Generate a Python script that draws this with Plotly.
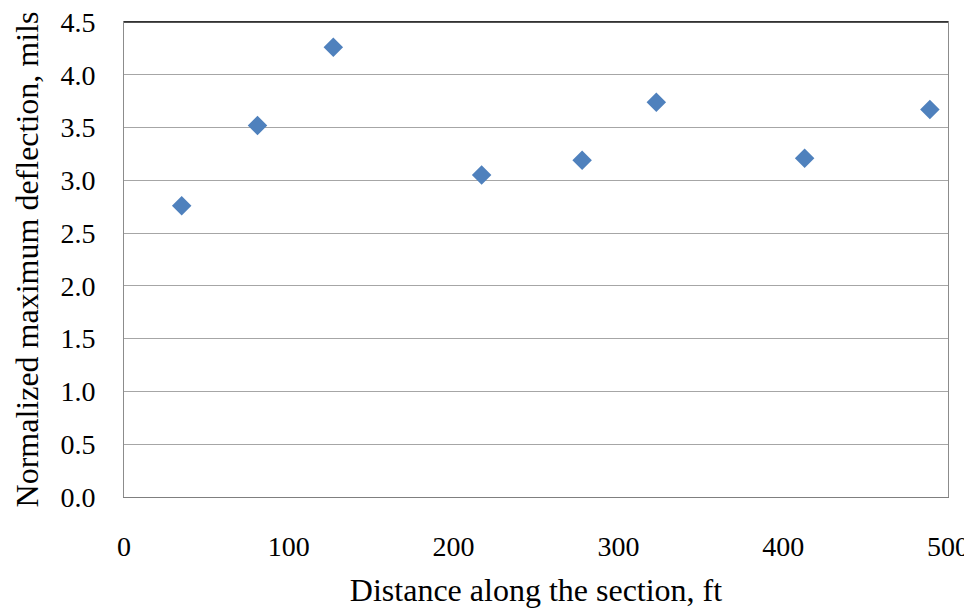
import plotly.graph_objects as go

distance_ft = [35, 81, 127, 217, 278, 323, 413, 489]
deflection_mils = [2.76, 3.52, 4.26, 3.05, 3.19, 3.74, 3.21, 3.67]

x_ticks = [0, 100, 200, 300, 400, 500]
y_ticks = [0.0, 0.5, 1.0, 1.5, 2.0, 2.5, 3.0, 3.5, 4.0, 4.5]

font_family = "Liberation Serif, Times New Roman, serif"

fig = go.Figure()
fig.add_trace(go.Scatter(
    x=distance_ft, y=deflection_mils, mode="markers",
    marker=dict(symbol="diamond", size=15, color="#4F81BD",
                line=dict(width=0)),
    showlegend=False, cliponaxis=False,
))

fig.add_shape(type="line", xref="paper", yref="paper", x0=0, x1=1, y0=1, y1=1,
              line=dict(color="#1A1A1A", width=1.5), layer="above")

fig.update_layout(
    width=972, height=609,
    margin=dict(l=116, r=32, t=14, b=120),
    paper_bgcolor="white", plot_bgcolor="white",
    font=dict(family=font_family, size=28, color="black"),
    xaxis=dict(
        range=[0, 500], tickvals=x_ticks, ticktext=[str(v) for v in x_ticks],
        showgrid=False, showline=True, linecolor="#7F7F7F", linewidth=1,
        mirror=True, ticks="", zeroline=False, ticklabelstandoff=24,
        ticklabeloverflow="allow", automargin=False,
        title=dict(text="Distance along the section, ft", standoff=18,
                   font=dict(size=32)),
        tickfont=dict(size=28),
    ),
    yaxis=dict(
        range=[0, 4.5], tickvals=y_ticks, ticktext=[f"{v:.1f}" for v in y_ticks],
        showgrid=True, gridcolor="#A6A6A6", gridwidth=1,
        showline=True, linecolor="#8C8C8C", linewidth=1, mirror=True,
        ticks="", zeroline=False, ticklabelstandoff=22,
        ticklabeloverflow="allow", automargin=False,
        title=dict(text="Normalized maximum deflection, mils", standoff=12,
                   font=dict(size=32)),
        tickfont=dict(size=28),
    ),
)

fig.write_html("out.html")
